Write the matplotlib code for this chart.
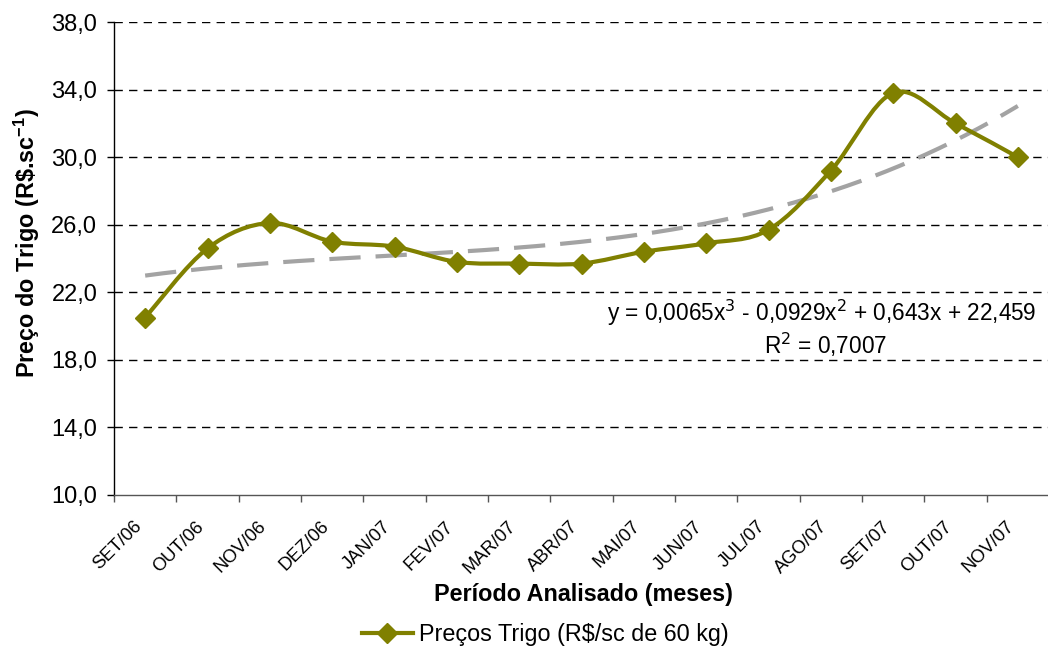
import numpy as np
import matplotlib
matplotlib.use("Agg")
import matplotlib.pyplot as plt
from matplotlib.path import Path
from matplotlib.patches import PathPatch
from matplotlib.lines import Line2D
from matplotlib.ticker import FixedLocator, FuncFormatter, NullFormatter
import matplotlib.transforms as mtransforms

plt.rcParams['font.family'] = ['Liberation Sans', 'DejaVu Sans']

months = ["SET/06", "OUT/06", "NOV/06", "DEZ/06", "JAN/07", "FEV/07", "MAR/07",
          "ABR/07", "MAI/07", "JUN/07", "JUL/07", "AGO/07", "SET/07", "OUT/07", "NOV/07"]
prices = [20.5, 24.6, 26.1, 25.0, 24.7, 23.8, 23.7, 23.7, 24.4, 24.9, 25.7, 29.2, 33.8, 32.0, 30.0]
series_label = "Preços Trigo (R$/sc de 60 kg)"
equation_text = "y = 0,0065x$^3$ - 0,0929x$^2$ + 0,643x + 22,459"
r2_text = "R$^2$ = 0,7007"
y_ticks = [10, 14, 18, 22, 26, 30, 34, 38]

OLIVE = "#808000"

fig = plt.figure(figsize=(10.48, 6.47), dpi=100)
ax = fig.add_axes([114/1048, 1-495/647, (1049-114)/1048, (495-22)/647])

x = np.arange(len(prices), dtype=float)
y = np.array(prices, dtype=float)

# gridlines
for t in y_ticks[1:]:
    ax.axhline(t, color="black", lw=1.0, dashes=(6, 4.5), zorder=1)

# polynomial trendline (order 3, x = 1..n as in the spreadsheet)
xn = x + 1
coef = np.polyfit(xn, y, 3)
xt = np.linspace(xn[0], xn[-1], 200)
ax.plot(xt - 1, np.polyval(coef, xt), color="#a3a3a3", lw=3.0, dashes=(7.5, 3.6),
        solid_capstyle="butt", dash_capstyle="butt", zorder=2)

# smoothed line (Catmull-Rom -> cubic Bezier)
pts = np.column_stack([x, y])
verts = [pts[0]]
codes = [Path.MOVETO]
n = len(pts)
for i in range(n - 1):
    p0 = pts[i - 1] if i > 0 else pts[i]
    p1 = pts[i]
    p2 = pts[i + 1]
    p3 = pts[i + 2] if i + 2 < n else pts[i + 1]
    c1 = p1 + (p2 - p0) / 6.0
    c2 = p2 - (p3 - p1) / 6.0
    verts += [c1, c2, p2]
    codes += [Path.CURVE4] * 3
ax.add_patch(PathPatch(Path(verts, codes), fill=False, edgecolor=OLIVE, lw=3.0,
                       capstyle="round", joinstyle="round", zorder=3))
ax.plot(x, y, linestyle="none", marker="D", markersize=10.5, color=OLIVE, zorder=4)

ax.set_xlim(-0.5, len(prices) - 0.5)
ax.set_ylim(10, 38)

# axes styling
for s in ["top", "right"]:
    ax.spines[s].set_visible(False)
ax.spines["left"].set_color("black")
ax.spines["left"].set_linewidth(1.0)
ax.spines["bottom"].set_color("#555555")
ax.spines["bottom"].set_linewidth(1.0)

ax.yaxis.set_major_locator(FixedLocator(y_ticks))
ax.yaxis.set_major_formatter(FuncFormatter(lambda v, p: f"{v:.1f}".replace(".", ",")))
ax.tick_params(axis="y", labelsize=17, length=5, width=1, pad=7, color="black")

# x axis: tick marks at category boundaries, labels at category centres
ax.set_xticks(np.arange(-0.5, len(prices), 1.0))
ax.xaxis.set_major_formatter(NullFormatter())
ax.tick_params(axis="x", which="major", length=5, width=1, color="#555555")
off = mtransforms.ScaledTranslation(-12/100, -23/100, fig.dpi_scale_trans)
for xi, lab in zip(x, months):
    ax.text(xi, 0, lab, transform=ax.get_xaxis_transform() + off, rotation=45,
            rotation_mode="anchor", ha="right", va="top", fontsize=13.2)

# equation
fig.text(1036/1048, 1-313/647, equation_text, ha="right", va="center", fontsize=16.3)
fig.text(826/1048, 1-345/647, r2_text, ha="center", va="center", fontsize=16.3)

# labels
fig.text(583/1048, 1-594/647, "Período Analisado (meses)", ha="center", va="center",
         fontsize=16.8, fontweight="bold")
fig.text(27/1048, 1-243/647, "Preço do Trigo (R\\$.sc$^{\\mathregular{-1}}$)", ha="center", va="center",
         rotation=90, fontsize=16.8, fontweight="bold")

handle = Line2D([], [], color=OLIVE, lw=3.0, marker="D", markersize=10.5)
fig.legend([handle], [series_label], loc="center", bbox_to_anchor=(545/1048, 1-635/647),
           frameon=False, fontsize=16.8, handlelength=2.2, handletextpad=0.25)

fig.savefig("out.png", dpi=100)
